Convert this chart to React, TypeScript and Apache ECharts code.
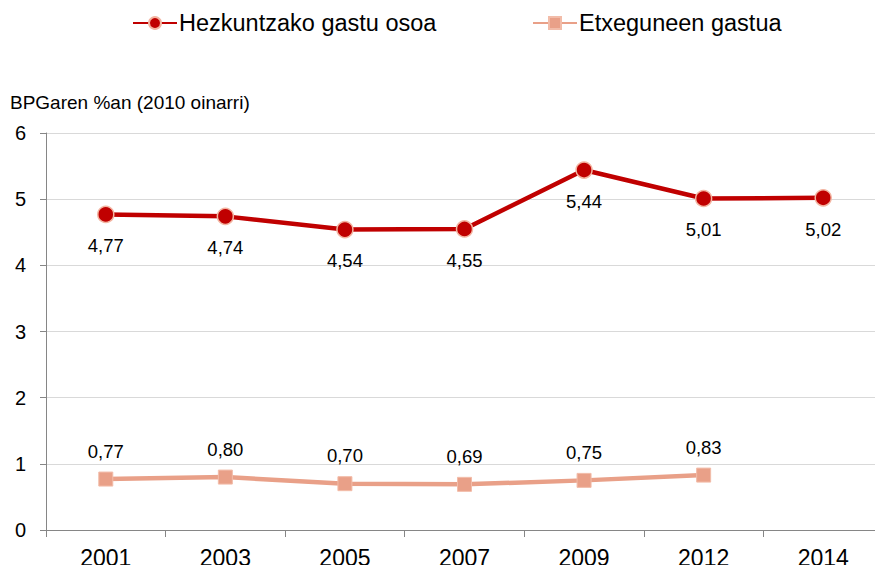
import React, { useEffect, useRef } from "react";
import * as echarts from "echarts";

const years = ["2001", "2003", "2005", "2007", "2009", "2012", "2014"];
const totalSpending = [4.77, 4.74, 4.54, 4.55, 5.44, 5.01, 5.02];
const householdSpending: (number | null)[] = [0.77, 0.8, 0.7, 0.69, 0.75, 0.83, null];
const seriesNames = ["Hezkuntzako gastu osoa", "Etxeguneen gastua"];
const yAxisTitle = "BPGaren %an (2010 oinarri)";

const FONT = "'Liberation Sans', Arial, sans-serif";
const RED = "#C00000";
const SALMON = "#E9A088";

const fmt = (p: any) => {
  const v = Array.isArray(p.value) ? p.value[1] : p.value;
  return v == null ? "" : Number(v).toFixed(2).replace(".", ",");
};

export default function App() {
  const ref = useRef<HTMLDivElement>(null);
  useEffect(() => {
    if (!ref.current) return;
    const chart = echarts.init(ref.current, undefined, { renderer: "svg" });
    const legendCommon = {
      top: 11,
      padding: 0,
      itemWidth: 44,
      itemHeight: 15,
      textStyle: { fontSize: 23.5, color: "#000", fontFamily: FONT, padding: [0, 0, 0, -3] },
    };
    chart.setOption({
      animation: false,
      backgroundColor: "#fff",
      textStyle: { fontFamily: FONT },
      legend: [
        { ...legendCommon, data: [seriesNames[0]], left: 132 },
        { ...legendCommon, data: [seriesNames[1]], left: 532 },
      ],
      graphic: [
        {
          type: "text",
          left: 10,
          top: 93,
          style: { text: yAxisTitle, fontSize: 19, fill: "#000", fontFamily: FONT },
        },
      ],
      grid: { left: 46, top: 133, width: 843, height: 397, containLabel: false },
      xAxis: {
        type: "category",
        data: years,
        boundaryGap: true,
        axisLine: { lineStyle: { color: "#868686", width: 1 } },
        axisTick: { show: true, length: 7, lineStyle: { color: "#868686" } },
        axisLabel: { fontSize: 23, color: "#000", margin: 16, fontFamily: FONT },
        splitLine: { show: false },
      },
      yAxis: {
        type: "value",
        min: 0,
        max: 6,
        interval: 1,
        axisLine: { show: true, lineStyle: { color: "#868686", width: 1 } },
        axisTick: { show: true, length: 6, lineStyle: { color: "#868686" } },
        axisLabel: { fontSize: 20, color: "#000", margin: 20, fontFamily: FONT },
        splitLine: { show: true, lineStyle: { color: "#D9D9D9", width: 1 } },
      },
      series: [
        {
          name: seriesNames[0],
          type: "line",
          data: totalSpending,
          symbol: "circle",
          symbolSize: 16,
          lineStyle: { color: RED, width: 4.5 },
          itemStyle: { color: RED, borderColor: "#F3B5A2", borderWidth: 1.5 },
          label: {
            show: true,
            position: "bottom",
            distance: 13,
            fontSize: 18.5,
            color: "#000",
            fontFamily: FONT,
            formatter: fmt,
          },
          z: 3,
        },
        {
          name: seriesNames[1],
          type: "line",
          data: householdSpending,
          symbol: "rect",
          symbolSize: 14,
          connectNulls: false,
          lineStyle: { color: SALMON, width: 4.5 },
          itemStyle: { color: SALMON, borderColor: "#F2BCA9", borderWidth: 1 },
          label: {
            show: true,
            position: "top",
            distance: 11,
            fontSize: 18.5,
            color: "#000",
            fontFamily: FONT,
            formatter: fmt,
          },
          z: 2,
        },
      ],
    });
    return () => chart.dispose();
  }, []);
  return <div ref={ref} style={{ width: 883, height: 573, margin: -8 }} />;
}
